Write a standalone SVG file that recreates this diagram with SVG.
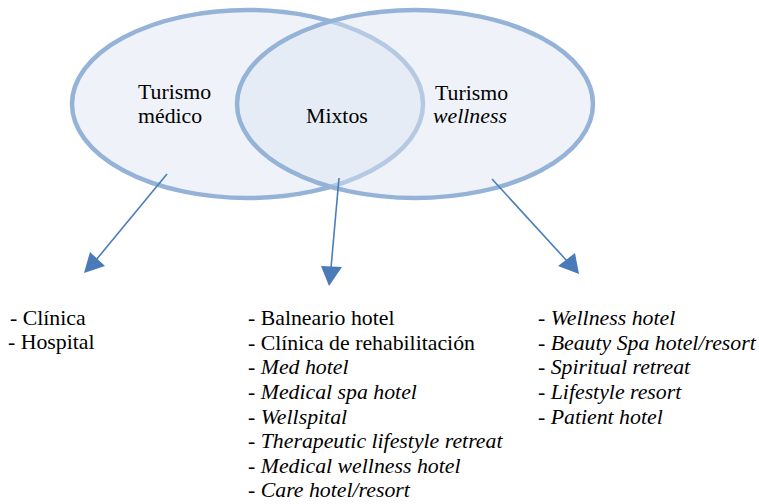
<svg xmlns="http://www.w3.org/2000/svg" width="759" height="504" viewBox="0 0 759 504">
<style>
.ell{fill:#DBE5F1;fill-opacity:0.45;stroke:#95B3D7;stroke-width:4.5}
text{font-family:'Liberation Serif','Times New Roman',serif;font-size:21.8px;fill:#000}
.i{font-style:italic}
.conn{stroke:#4A7EBB;stroke-width:1.6;fill:none}
.head{fill:#4A7AB8}
</style>
<rect width="759" height="504" fill="#fff"/>
<g id="turismo-medico">
<ellipse class="ell" cx="247.5" cy="104" rx="175.5" ry="94"/>
<text x="138" y="99">Turismo</text>
<text x="138" y="123">médico</text>
</g>
<g id="turismo-wellness">
<ellipse class="ell" cx="415" cy="104" rx="178" ry="94"/>
<text x="435" y="100">Turismo</text>
<text class="i" x="433" y="123">wellness</text>
</g>
<g id="mixtos">
<text x="306" y="123">Mixtos</text>
</g>
<g id="connectors">
<line class="conn" x1="167" y1="174" x2="96" y2="260"/>
<polygon class="head" points="84,273 90,252 105,266"/>
<line class="conn" x1="339" y1="178" x2="331" y2="268"/>
<polygon class="head" points="329,286 321,266 342,267"/>
<line class="conn" x1="492" y1="179" x2="567" y2="261"/>
<polygon class="head" points="579,274 558,266 575,253"/>
</g>
<g id="list-medico">
<text x="10" y="325">- Clínica</text>
<text x="8" y="349">- Hospital</text>
</g>
<g id="list-mixtos">
<text x="248" y="325">- Balneario hotel</text>
<text x="248" y="350">- Clínica de rehabilitación</text>
<text x="248" y="374">- <tspan class="i">Med hotel</tspan></text>
<text x="248" y="399">- <tspan class="i">Medical spa hotel</tspan></text>
<text x="248" y="424">- <tspan class="i">Wellspital</tspan></text>
<text x="248" y="448">- <tspan class="i">Therapeutic lifestyle retreat</tspan></text>
<text x="248" y="473">- <tspan class="i">Medical wellness hotel</tspan></text>
<text x="248" y="497">- <tspan class="i">Care hotel/resort</tspan></text>
</g>
<g id="list-wellness">
<text x="538" y="325">- <tspan class="i">Wellness hotel</tspan></text>
<text x="538" y="350">- <tspan class="i">Beauty Spa hotel/resort</tspan></text>
<text x="538" y="374">- <tspan class="i">Spiritual retreat</tspan></text>
<text x="538" y="399">- <tspan class="i">Lifestyle resort</tspan></text>
<text x="538" y="424">- <tspan class="i">Patient hotel</tspan></text>
</g>
</svg>
